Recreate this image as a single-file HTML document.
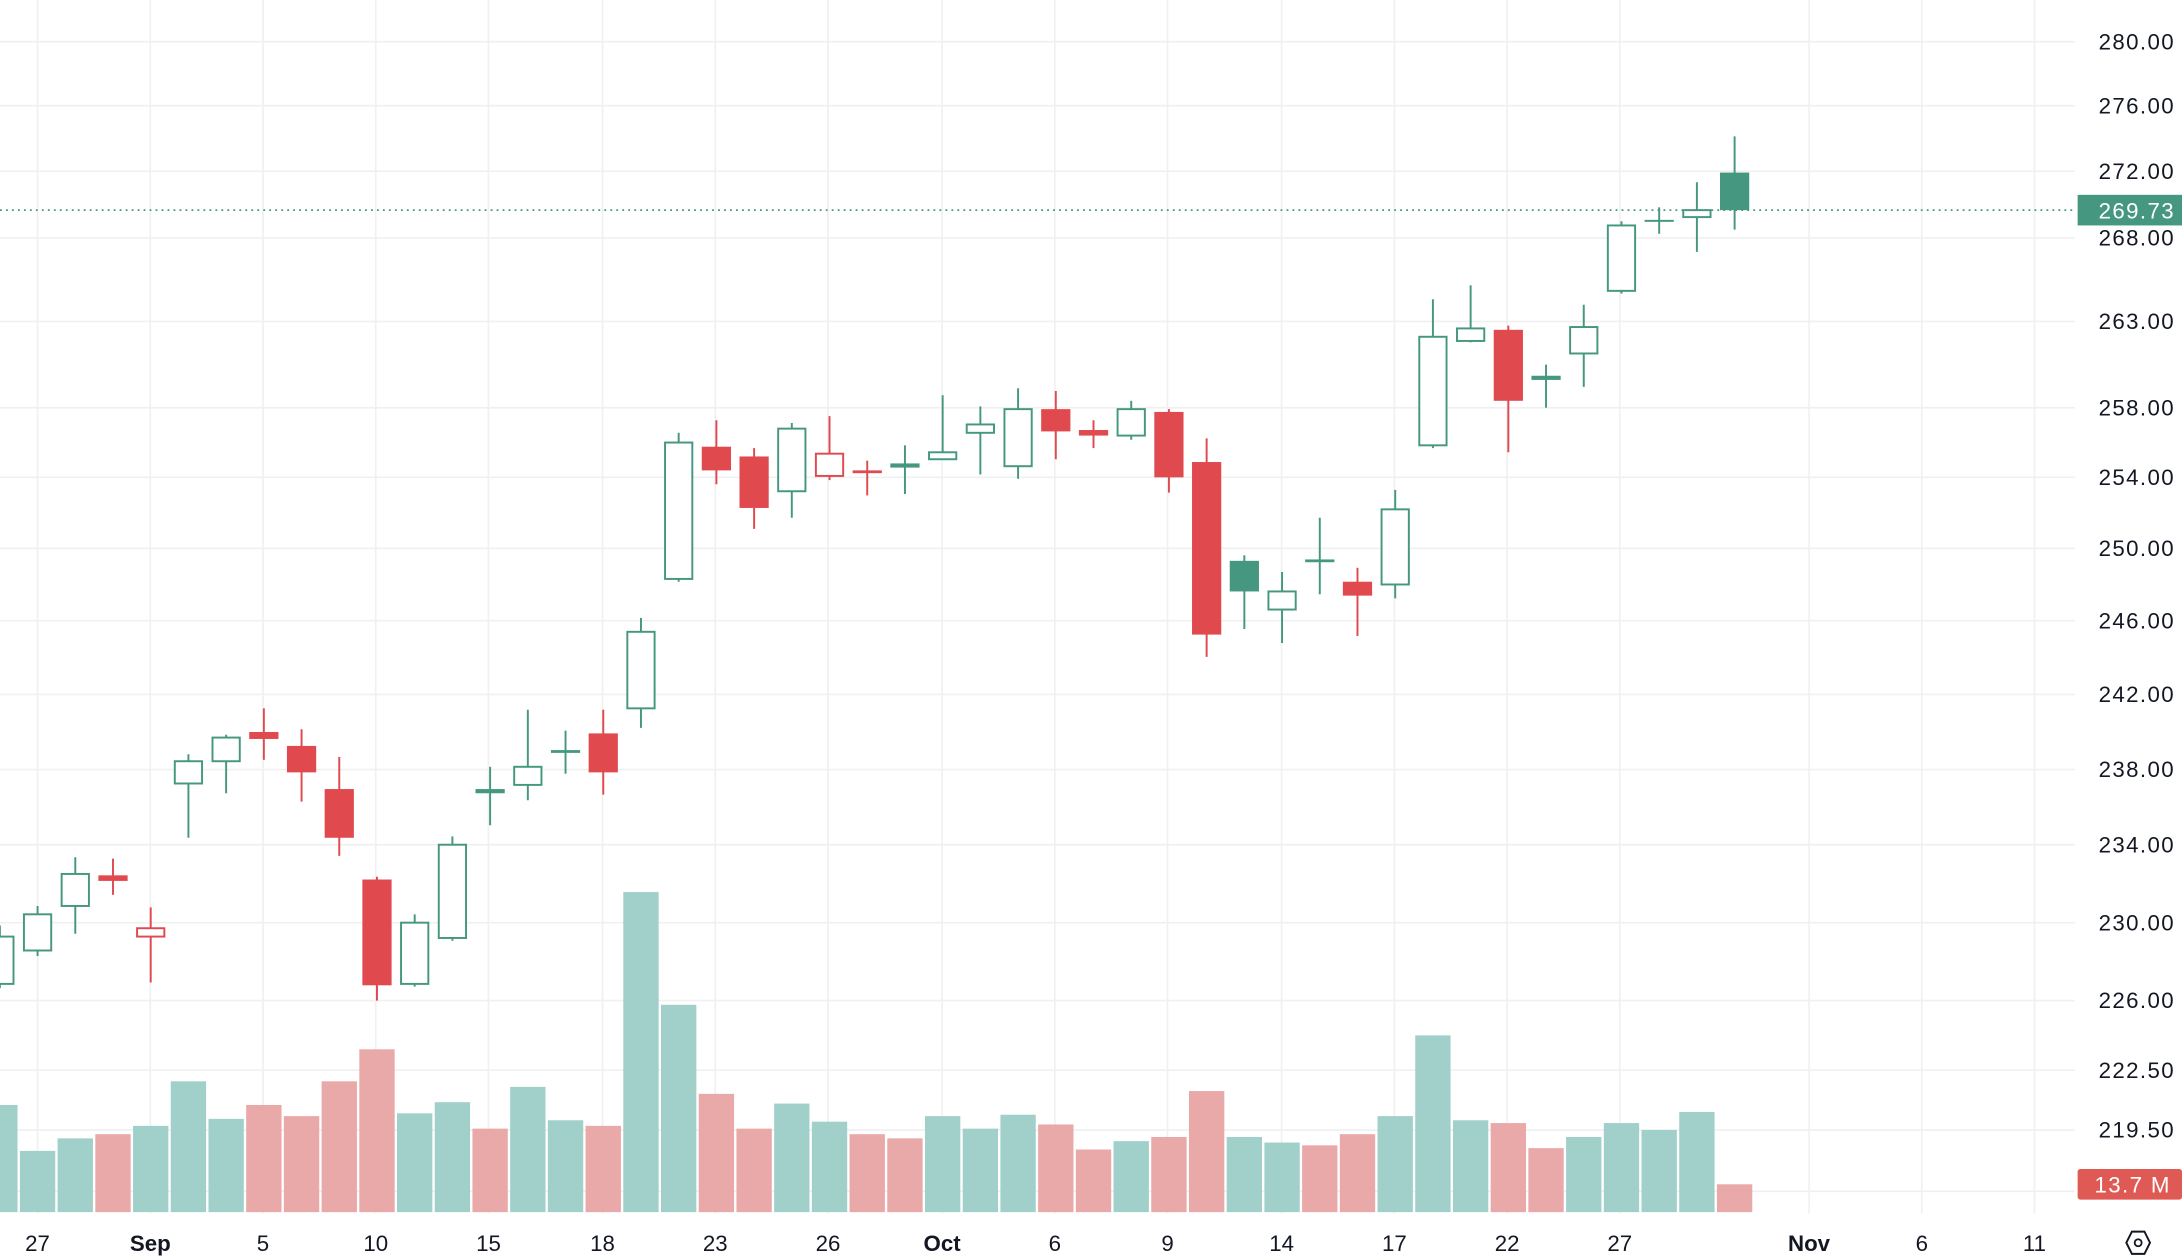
<!DOCTYPE html>
<html><head><meta charset="utf-8"><style>
html,body{margin:0;padding:0;background:#fff;overflow:hidden}
svg{display:block}
text{font-family:"Liberation Sans",sans-serif}
</style></head><body>
<svg id="s" width="2182" height="1260" viewBox="0 0 1568 905.4" preserveAspectRatio="none" xmlns="http://www.w3.org/2000/svg"></svg>
<script>
var G="#45977f",R="#e04a4f",VG="#a1d0cb",VR="#e9a9a8";
var s="";
var vx=[27,108,189,270,351,433,514,595,677,758,839,921,1002,1083,1164,1300,1381,1462];
vx.forEach(function(x){s+='<line x1="'+x+'" y1="0" x2="'+x+'" y2="872" stroke="#f0f0f0" stroke-width="1.2"/>';});
var py=[[280,30],[276,76],[272,123],[268,171],[263,231],[258,293],[254,343],[250,394],[246,446],[242,499],[238,553],[234,607],[230,663],[226,719],[222.5,769],[219.5,812],[216.5,856]];
py.forEach(function(p){s+='<line x1="0" y1="'+p[1]+'" x2="1491" y2="'+p[1]+'" stroke="#f0f0f0" stroke-width="1.2"/>';});
var vol=[[794,1],[827,1],[818,1],[815,0],[809,1],[777,1],[804,1],[794,0],[802,0],[777,0],[754,0],[800,1],[792,1],[811,0],[781,1],[805,1],[809,0],[641,1],[722,1],[786,0],[811,0],[793,1],[806,1],[815,0],[818,0],[802,1],[811,1],[801,1],[808,0],[826,0],[820,1],[817,0],[784,0],[817,1],[821,1],[823,0],[815,0],[802,1],[744,1],[805,1],[807,0],[825,0],[817,1],[807,1],[812,1],[799,1],[851,0]];
vol.forEach(function(v,k){var x=27+27.1*(k-1);s+='<rect x="'+(x-12.7)+'" y="'+v[0]+'" width="25.4" height="'+(871-v[0])+'" fill="'+(v[1]?VG:VR)+'"/>';});
var c=[[673,707,665,710,1,0],[657,683,651,687,1,0],[628,651,616,671,1,0],[629,633,617,643,0,1],[667,673,652,706,0,0],[547,563,542,602,1,0],[530,547,528,570,1,0],[526,531,509,546,0,1],[536,555,524,576,0,1],[567,602,544,615,0,1],[632,708,630,719,0,1],[663,707,657,709,1,0],[607,674,601,676,1,0],[567,570,551,593,1,1],[551,564,510,575,1,0],[539,541,525,556,1,1],[527,555,510,571,0,1],[454,509,444,523,1,0],[318,416,311,418,1,0],[321,338,302,348,0,1],[328,365,322,380,0,1],[308,353,304,372,1,0],[326,342,299,345,0,0],[338,340,331,356,0,1],[333,336,320,355,1,1],[325,330,284,330,1,0],[305,311,292,341,1,0],[294,335,279,344,1,0],[294,310,281,330,0,1],[309,313,302,322,0,1],[294,313,288,316,1,0],[296,343,294,354,0,1],[332,456,315,472,0,1],[403,425,399,452,1,1],[425,438,411,462,1,0],[402,404,372,427,1,1],[418,428,408,457,0,1],[366,420,352,430,1,0],[242,320,215,322,1,0],[236,245,205,246,1,0],[237,288,234,325,0,1],[270,273,262,293,1,1],[235,254,219,278,1,0],[162,209,159,211,1,0],[158,159,149,168,1,1],[151,156,131,181,1,0],[124,151,98,165,1,1]];
c.forEach(function(d,k){var x=27+27.1*(k-1),col=d[4]?G:R,w=21;
 s+='<line x1="'+x+'" y1="'+d[2]+'" x2="'+x+'" y2="'+d[3]+'" stroke="'+col+'" stroke-width="1.4"/>';
 var h=Math.max(d[1]-d[0],1.4);
 if(d[5]) s+='<rect x="'+(x-w/2)+'" y="'+d[0]+'" width="'+w+'" height="'+h+'" fill="'+col+'"/>';
 else s+='<rect x="'+(x-w/2+0.7)+'" y="'+d[0]+'" width="'+(w-1.4)+'" height="'+h+'" fill="#fff" stroke="'+col+'" stroke-width="1.4"/>';
});
s+='<line x1="0" y1="151" x2="1491" y2="151" stroke="'+G+'" stroke-width="1.3" stroke-dasharray="1.3,3"/>';
py.slice(0,16).forEach(function(p){s+='<text x="1563" y="'+(p[1]+5.5)+'" font-size="16" letter-spacing="1" text-anchor="end" fill="#131722">'+p[0].toFixed(2)+'</text>';});
s+='<rect x="1493" y="140" width="75" height="22" fill="'+G+'"/><text x="1563" y="157" font-size="16" letter-spacing="1" text-anchor="end" fill="#fff">269.73</text>';
s+='<rect x="1493" y="840" width="75" height="22" rx="2" fill="#e05a55"/><text x="1560" y="857" font-size="16" letter-spacing="1" text-anchor="end" fill="#fff">13.7 M</text>';
var xl=[["27",27],["Sep",108,1],["5",189],["10",270],["15",351],["18",433],["23",514],["26",595],["Oct",677,1],["6",758],["9",839],["14",921],["17",1002],["22",1083],["27",1164],["Nov",1300,1],["6",1381],["11",1462]];
xl.forEach(function(l){s+='<text x="'+l[1]+'" y="899" font-size="16" text-anchor="middle" fill="#131722"'+(l[2]?' font-weight="bold"':'')+'>'+l[0]+'</text>';});
s+='<polygon points="1528,893 1532,885 1541,885 1545,893 1541,901 1532,901" fill="none" stroke="#131722" stroke-width="1.4"/><circle cx="1536.5" cy="893" r="2.5" fill="none" stroke="#131722" stroke-width="1.3"/>';
document.getElementById("s").innerHTML=s;
</script>
</body></html>
